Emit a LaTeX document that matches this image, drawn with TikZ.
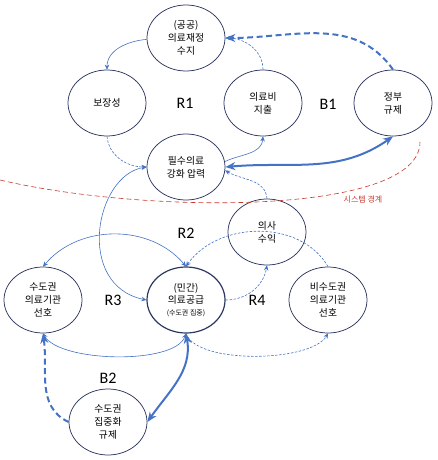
\documentclass[tikz,border=0pt]{standalone}
\usepackage{fontspec}
\setmainfont{Noto Sans CJK KR}
\newfontfamily\latinfont{Carlito}
\usetikzlibrary{shapes.geometric,arrows.meta}
\definecolor{navy}{RGB}{45,55,95}
\definecolor{arrblue}{RGB}{68,114,196}
\definecolor{bred}{RGB}{200,55,45}
\begin{document}
\begin{tikzpicture}[x=1pt,y=1pt,
  var/.style={ellipse,draw=navy,line width=0.75pt,minimum width=78pt,minimum height=66pt,inner sep=0pt,align=center,font=\fontsize{9.8}{12.8}\selectfont},
  lab/.style={font=\latinfont\fontsize{16}{16}\selectfont},
  lnk/.style={draw=arrblue,line width=0.6pt},
  lnkd/.style={lnk,dash pattern=on 2.5pt off 1.5pt},
  strong/.style={draw=arrblue,line width=2pt},
  strongd/.style={strong,dash pattern=on 6pt off 3.5pt},
  ta/.tip={Stealth[length=5pt,width=4.5pt]},
  tb/.tip={Stealth[length=10pt,width=8pt]},
]
\useasboundingbox (0,0) rectangle (437,-460);

% nodes
\node[var] (gf) at (186,-38) {(공공)\\의료재정\\수지};
\node[var] (bj) at (107,-103) {보장성};
\node[var] (ex) at (263,-103) {의료비\\지출};
\node[var] (gov) at (393,-103) {정부\\규제};
\node[var] (pr) at (186,-167) {필수의료\\강화 압력};
\node[var] (dr) at (267,-232) {의사\\수익};
\node[var] (cap) at (43,-300) {수도권\\의료기관\\선호};
\node[var,line width=1.2pt] (sup) at (186,-300) {(민간)\\의료공급\\[-1pt]{\fontsize{7}{8}\selectfont (수도권 집중)}};
\node[var] (ncap) at (328,-300) {비수도권\\의료기관\\선호};
\node[var] (reg) at (108,-422) {수도권\\집중화\\규제};

% loop labels
\node[lab] (r1) at (185,-103) {R1};
\node[lab] (b1) at (328,-104) {B1};
\node[lab] (r2) at (186,-233) {R2};
\node[lab] (r3) at (113,-300) {R3};
\node[lab] (r4) at (257,-300) {R4};
\node[lab] (b2) at (108,-378) {B2};

% system boundary
\draw[bred,line width=0.6pt,dash pattern=on 5pt off 3pt] (0,-180) .. controls (150,-215) and (420,-215) .. (420,-142);
\node[text=bred,font=\fontsize{8}{9}\selectfont] (sb) at (363,-200) {시스템 경계};

% R1 loop
\draw[lnk,-ta] (gf.182) to[out=185,in=90] (bj.north);
\draw[lnkd,-ta] (bj.south) to[out=-85,in=180] (pr.west);
\draw[lnk,-ta] (pr.8) to[out=25,in=-95] (ex.south);
\draw[lnkd,-ta] (ex.north) to[out=90,in=0] (gf.east);

% B1 loop
\draw[strongd,-tb] (gov.north) to[out=125,in=0] (gf.east);
\draw[strong,tb-tb] (pr.east) to[out=5,in=215] (gov.south);

% R2 / R3 / R4
\draw[lnkd,-ta] (dr.north) to[out=95,in=-30] (pr.-5);
\draw[lnk,ta-ta] (pr.west) .. controls (95,-175) and (75,-285) .. (sup.west);
\draw[lnk,ta-ta] (sup.north) to[out=130,in=50] (cap.north);
\draw[lnkd,-ta] (ncap.north) to[out=120,in=55] (sup.north);
\draw[lnkd,-ta] (sup.east) to[out=0,in=-100] (dr.south);
\draw[lnk,ta-ta] (sup.south) to[out=-110,in=-60,looseness=0.6] (cap.south);
\draw[lnkd,-ta] (sup.south) to[out=-70,in=-120,looseness=0.6] (ncap.south);

% B2 loop
\draw[strong,tb-tb] (sup.south) to[out=-80,in=55] (reg.east);
\draw[strongd,-tb] (reg.west) to[out=155,in=-82] (cap.south);
\end{tikzpicture}
\end{document}
